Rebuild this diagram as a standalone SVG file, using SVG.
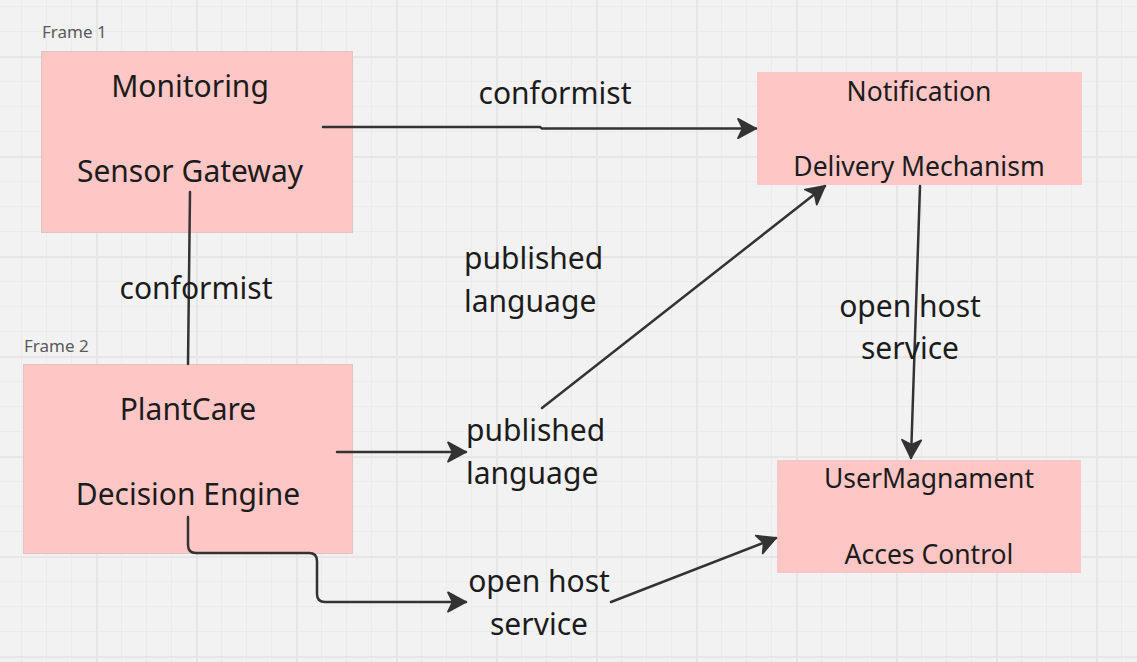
<svg xmlns="http://www.w3.org/2000/svg" width="1137" height="662" viewBox="0 0 1137 662">
<style>
.box{fill:#ffc6c6;}
.frame{fill:#ffc6c6;stroke:#dfc4c4;stroke-width:1;}
.t{font-family:"Noto Sans","Open Sans",sans-serif;fill:#1c1c1c;}
.big{font-size:30px;text-anchor:middle;}
.mid{font-size:26.5px;text-anchor:middle;}
.lbl{font-size:30px;}
.fl{font-family:"Noto Sans","Open Sans",sans-serif;font-size:17px;fill:#5a5a5a;}
.c{fill:none;stroke:#333;stroke-width:2.5;stroke-linecap:round;stroke-linejoin:round;}
.a{marker-end:url(#arr);}
</style>
<defs>
<pattern id="grid" patternUnits="userSpaceOnUse" x="0" y="0" width="100" height="100">
<rect width="100" height="100" fill="#f2f2f2"/>
<rect x="21" y="0" width="1" height="100" fill="#ebebeb"/>
<rect x="46" y="0" width="1" height="100" fill="#ebebeb"/>
<rect x="71" y="0" width="1" height="100" fill="#ebebeb"/>
<rect x="0" y="6" width="100" height="1" fill="#ebebeb"/>
<rect x="0" y="31" width="100" height="1" fill="#ebebeb"/>
<rect x="0" y="81" width="100" height="1" fill="#ebebeb"/>
<rect x="96" y="0" width="2" height="100" fill="#e6e6e6"/>
<rect x="0" y="56" width="100" height="2" fill="#e6e6e6"/>
</pattern>
<marker id="arr" markerUnits="userSpaceOnUse" markerWidth="24" markerHeight="24" viewBox="-18 -10 20 20" refX="0" refY="0" orient="auto">
<path d="M0,0 L-15,-8 L-11,0 L-15,8 Z" fill="#333" stroke="#333" stroke-width="1.5" stroke-linejoin="round"/>
</marker>
</defs>
<rect width="1137" height="662" fill="url(#grid)"/>

<g id="frame1">
<text class="fl" x="42" y="38">Frame 1</text>
<rect class="frame" x="41.5" y="51.5" width="311" height="181"/>
<text class="t big" x="190" y="97">Monitoring</text>
<text class="t big" x="190" y="182">Sensor Gateway</text>
</g>

<g id="frame2">
<text class="fl" x="24" y="352">Frame 2</text>
<rect class="frame" x="23.5" y="364.5" width="329" height="189"/>
<text class="t big" x="188" y="420">PlantCare</text>
<text class="t big" x="188" y="505">Decision Engine</text>
</g>

<g id="notification">
<rect class="box" x="757" y="72" width="325" height="113"/>
<text class="t mid" x="919" y="101">Notification</text>
<text class="t mid" x="919" y="176">Delivery Mechanism</text>
</g>

<g id="usermgmt">
<rect class="box" x="777" y="460" width="304" height="113"/>
<text class="t mid" x="929" y="488">UserMagnament</text>
<text class="t mid" x="929" y="564">Acces Control</text>
</g>

<g id="connectors">
<path class="c a" d="M323,127 H540 L542,128.5 H756"/>
<path class="c" d="M190,192 L188,364"/>
<path class="c a" d="M337,452 H466"/>
<path class="c a" d="M542,408 L825,186"/>
<path class="c a" d="M188,517 V545 Q188,553 196,553 H309 Q317,553 317,561 V594 Q317,602 325,602 H466"/>
<path class="c a" d="M611,602 L776,538"/>
<path class="c a" d="M920,186 L911,458"/>
</g>

<g id="labels">
<text class="t lbl" x="555" y="104" text-anchor="middle">conformist</text>
<text class="t lbl" x="196" y="299" text-anchor="middle">conformist</text>
<text class="t lbl" x="464" y="269">published</text>
<text class="t lbl" x="464" y="312">language</text>
<text class="t lbl" x="466" y="441">published</text>
<text class="t lbl" x="466" y="484">language</text>
<text class="t lbl" x="539" y="592" text-anchor="middle">open host</text>
<text class="t lbl" x="539" y="635" text-anchor="middle">service</text>
<text class="t lbl" x="910" y="317" text-anchor="middle">open host</text>
<text class="t lbl" x="910" y="359" text-anchor="middle">service</text>
</g>
</svg>
